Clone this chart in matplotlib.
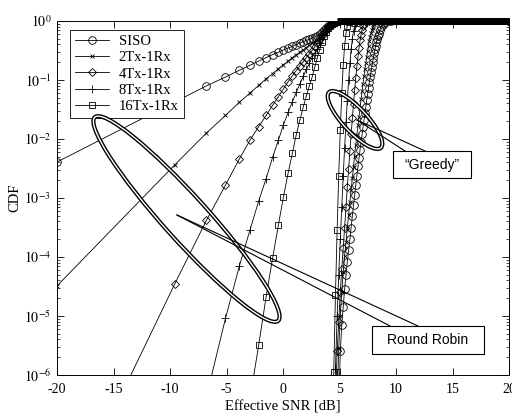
import numpy as np
import matplotlib
matplotlib.use("Agg")
import matplotlib.pyplot as plt
from matplotlib.patches import Ellipse, Rectangle
from matplotlib.lines import Line2D
from matplotlib.transforms import IdentityTransform
from matplotlib.ticker import LogLocator, NullFormatter

# ---------------- data (x: effective SNR in dB, y: log10 of CDF) ----------------
series_labels = ['SISO', '2Tx-1Rx', '4Tx-1Rx', '8Tx-1Rx', '16Tx-1Rx']

# Round-robin scheduling
rr_siso_snr = [-20, -6.78, -5.09, -3.87, -2.92, -2.15, -1.49, -0.92, -0.41, 0.04,
               0.45, 0.83, 1.17, 1.49, 1.79, 2.07, 2.33, 2.58, 2.81, 3.03,
               3.24, 3.44, 3.64, 3.82, 4.00, 4.17, 4.33, 4.49, 4.64, 4.79, 4.93, 20]
rr_siso_log = [-2.39, -1.10, -0.95, -0.835, -0.75, -0.68, -0.62, -0.57, -0.53, -0.49,
               -0.46, -0.43, -0.40, -0.375, -0.35, -0.33, -0.31, -0.29, -0.27, -0.25,
               -0.22, -0.19, -0.155, -0.12, -0.09, -0.065, -0.045, -0.03, -0.015, -0.005, 0, 0]

rr_2tx_snr = [-20, -9.59, -6.78, -5.09, -3.87, -2.92, -2.15, -1.49, -0.92, -0.41,
              0.04, 0.45, 0.83, 1.17, 1.49, 1.79, 2.07, 2.33, 2.58, 2.81,
              3.03, 3.24, 3.44, 3.64, 3.82, 4.00, 4.17, 4.33, 4.49, 4.64, 4.79, 4.93, 20]
rr_2tx_log = [-4.49, -2.44, -1.90, -1.60, -1.38, -1.22, -1.09, -0.98, -0.89, -0.81,
              -0.74, -0.68, -0.62, -0.57, -0.53, -0.49, -0.45, -0.41, -0.38, -0.35,
              -0.32, -0.27, -0.225, -0.18, -0.14, -0.10, -0.07, -0.045, -0.025, -0.012, -0.004, 0, 0]

rr_4tx_snr = [-20, -9.59, -6.78, -5.09, -3.87, -2.92, -2.15, -1.49, -0.92, -0.41,
              0.04, 0.45, 0.83, 1.17, 1.49, 1.79, 2.07, 2.33, 2.58, 2.81,
              3.03, 3.24, 3.44, 3.64, 3.82, 4.00, 4.17, 4.33, 4.49, 4.64, 4.79, 4.93, 20]
rr_4tx_log = [-8.6, -4.46, -3.38, -2.78, -2.34, -2.02, -1.79, -1.60, -1.43, -1.28,
              -1.15, -1.03, -0.93, -0.84, -0.76, -0.69, -0.62, -0.56, -0.50, -0.44,
              -0.38, -0.31, -0.25, -0.19, -0.145, -0.105, -0.072, -0.045, -0.025, -0.012, -0.004, 0, 0]

rr_8tx_snr = [-6.78, -5.09, -3.87, -2.92, -2.15, -1.49, -0.92, -0.41, 0.04, 0.45,
              0.83, 1.17, 1.49, 1.79, 2.07, 2.33, 2.58, 2.81, 3.03, 3.24,
              3.44, 3.64, 3.82, 4.00, 4.17, 4.33, 4.49, 4.64, 4.79, 20]
rr_8tx_log = [-6.37, -5.04, -4.16, -3.54, -3.05, -2.67, -2.31, -2.02, -1.76, -1.55,
              -1.37, -1.21, -1.07, -0.94, -0.82, -0.72, -0.62, -0.54, -0.47, -0.38,
              -0.30, -0.23, -0.165, -0.115, -0.075, -0.045, -0.025, -0.01, 0, 0]

rr_16tx_snr = [-2.92, -2.15, -1.49, -0.92, -0.41, 0.04, 0.45, 0.83, 1.17, 1.49,
               1.79, 2.07, 2.33, 2.58, 2.81, 3.03, 3.24, 3.44, 3.64, 3.82,
               4.00, 4.17, 4.33, 4.49, 4.64, 4.79, 4.93, 20]
rr_16tx_log = [-6.4, -5.49, -4.67, -4.02, -3.46, -2.98, -2.58, -2.24, -1.93, -1.68,
               -1.46, -1.27, -1.10, -0.95, -0.78, -0.63, -0.49, -0.36, -0.26, -0.18,
               -0.12, -0.08, -0.05, -0.028, -0.012, -0.004, 0, 0]

# Greedy scheduling
gr_siso_snr = [4.93, 5.07, 5.20, 5.33, 5.45, 5.58, 5.69, 5.81, 5.92, 6.03,
               6.14, 6.24, 6.34, 6.44, 6.54, 6.64, 6.73, 6.82, 6.91, 7.00,
               7.08, 7.17, 7.25, 7.33, 7.41, 7.49, 7.57, 7.64, 7.72, 7.79,
               7.86, 7.93, 8.00, 8.07, 8.14, 8.20, 8.27, 8.33, 8.39, 8.46,
               8.58, 8.70, 8.81, 8.93, 9.04, 9.30, 9.60, 20]
gr_siso_log = [-6.5, -5.6, -5.15, -4.85, -4.55, -4.3, -4.08, -3.88, -3.7, -3.5,
               -3.3, -3.12, -2.95, -2.78, -2.62, -2.46, -2.32, -2.18, -2.05, -1.92,
               -1.8, -1.68, -1.56, -1.45, -1.34, -1.24, -1.14, -1.04, -0.95, -0.86,
               -0.78, -0.70, -0.62, -0.55, -0.48, -0.42, -0.36, -0.31, -0.26, -0.22,
               -0.15, -0.10, -0.06, -0.035, -0.02, -0.005, 0, 0]

gr_2tx_snr = [4.79, 4.93, 5.07, 5.20, 5.33, 5.45, 5.58, 5.69, 5.81, 5.92,
              6.03, 6.14, 6.24, 6.34, 6.44, 6.54, 6.64, 6.73, 6.82, 6.91,
              7.00, 7.08, 7.17, 7.25, 7.33, 7.41, 7.49, 7.57, 7.64, 7.72,
              7.79, 7.86, 7.93, 8.00, 8.07, 8.20, 8.46, 20]
gr_2tx_log = [-6.5, -5.55, -5.0, -4.6, -4.25, -3.98, -3.75, -3.5, -3.28, -3.07,
              -2.86, -2.66, -2.47, -2.28, -2.1, -1.93, -1.77, -1.62, -1.47, -1.33,
              -1.19, -1.06, -0.94, -0.82, -0.71, -0.61, -0.51, -0.42, -0.34, -0.27,
              -0.21, -0.16, -0.12, -0.08, -0.05, -0.02, 0, 0]

gr_4tx_snr = [4.64, 4.79, 4.93, 5.07, 5.20, 5.33, 5.45, 5.58, 5.69, 5.81,
              5.92, 6.03, 6.14, 6.24, 6.34, 6.44, 6.54, 6.64, 6.73, 6.82,
              6.91, 7.00, 7.08, 7.17, 7.33, 7.57, 20]
gr_4tx_log = [-6.5, -5.6, -5.1, -4.6, -4.2, -3.85, -3.5, -3.15, -2.82, -2.5,
              -2.2, -1.92, -1.65, -1.4, -1.17, -0.96, -0.77, -0.6, -0.45, -0.33,
              -0.23, -0.15, -0.09, -0.05, -0.015, 0, 0]

gr_8tx_snr = [4.49, 4.64, 4.79, 4.93, 5.07, 5.20, 5.33, 5.45, 5.58, 5.69,
              5.81, 5.92, 6.03, 6.14, 6.24, 6.34, 6.44, 6.54, 6.73, 20]
gr_8tx_log = [-6.8, -5.9, -5.0, -4.3, -3.7, -3.15, -2.62, -2.15, -1.72, -1.35,
              -1.0, -0.72, -0.48, -0.3, -0.17, -0.09, -0.04, -0.015, 0, 0]

gr_16tx_snr = [4.33, 4.49, 4.64, 4.79, 4.93, 5.07, 5.20, 5.33, 5.45, 5.58,
               5.69, 5.81, 5.92, 20]
gr_16tx_log = [-7.3, -5.95, -4.65, -3.55, -2.62, -1.85, -1.22, -0.75, -0.42, -0.2,
               -0.08, -0.02, 0, 0]

xtick_vals = [-20, -15, -10, -5, 0, 5, 10, 15, 20]
xtick_labels = ['-20', '-15', '-10', '-5', '0', '5', '10', '15', '20']
ytick_vals = [1e-6, 1e-5, 1e-4, 1e-3, 1e-2, 1e-1, 1e0]
ytick_labels = [r'$10^{-6}$', r'$10^{-5}$', r'$10^{-4}$', r'$10^{-3}$',
                r'$10^{-2}$', r'$10^{-1}$', r'$10^{0}$']

# ---------------- figure ----------------
W, H = 512, 413
plt.rcParams['font.family'] = ['Liberation Serif', 'DejaVu Serif']
plt.rcParams['mathtext.fontset'] = 'stix'
plt.rcParams['axes.unicode_minus'] = False
plt.rcParams['font.size'] = 10

fig = plt.figure(figsize=(W / 100, H / 100), dpi=100)
ax = fig.add_axes([57 / W, 1 - 375 / H, 452 / W, 354 / H])
ax.set_yscale('log')

styles = [dict(marker='o', ms=5.5), dict(marker='x', ms=3.5), dict(marker='D', ms=3.8),
          dict(marker='+', ms=6), dict(marker='s', ms=4.6)]
common = dict(color='black', lw=0.6, mfc='none', mec='black', mew=0.6)

rr = [(rr_siso_snr, rr_siso_log), (rr_2tx_snr, rr_2tx_log), (rr_4tx_snr, rr_4tx_log),
      (rr_8tx_snr, rr_8tx_log), (rr_16tx_snr, rr_16tx_log)]
gr = [(gr_siso_snr, gr_siso_log), (gr_2tx_snr, gr_2tx_log), (gr_4tx_snr, gr_4tx_log),
      (gr_8tx_snr, gr_8tx_log), (gr_16tx_snr, gr_16tx_log)]

handles = []
for group, labelled in ((rr, True), (gr, False)):
    for lab, st, (xs, ls) in zip(series_labels, styles, group):
        x = np.array(xs, dtype=float)
        c = 10.0 ** np.array(ls, dtype=float)
        h, = ax.plot(x, c, label=lab if labelled else None, **common, **st)
        if labelled:
            handles.append(h)
        sat = c >= 1.0
        ax.plot(x[sat], c[sat], color='black', lw=5, clip_on=False,
                solid_capstyle='butt', zorder=1.5)

ax.set_xlim(-20, 20)
ax.set_ylim(1e-6, 1)
ax.set_xticks(xtick_vals)
ax.set_xticklabels(xtick_labels)
ax.set_yticks(ytick_vals)
ax.set_yticklabels(ytick_labels)
ax.yaxis.set_minor_locator(LogLocator(base=10, subs=np.arange(2, 10), numticks=20))
ax.yaxis.set_minor_formatter(NullFormatter())
ax.tick_params(which='both', direction='in', top=True, right=True, labelsize=10)
ax.tick_params(axis='x', which='major', length=5, width=0.6, pad=6)
ax.tick_params(axis='y', which='major', length=5, width=0.6, pad=4)
ax.tick_params(which='minor', length=2.5, width=0.5)
for s in ax.spines.values():
    s.set_linewidth(0.7)

ax.set_xlabel('Effective SNR [dB]', fontsize=10.5, labelpad=3)
ax.set_ylabel('CDF', fontsize=10.5, labelpad=2)

leg = ax.legend(handles=handles, loc='upper left', bbox_to_anchor=(13 / 452, 1 - 9 / 354),
                borderaxespad=0, fancybox=False, edgecolor='black', framealpha=1,
                numpoints=1, handlelength=2.3, handletextpad=0.7, labelspacing=0.2,
                borderpad=0.35, fontsize=10.5)
leg.get_frame().set_linewidth(0.6)

# ---------------- annotations (pixel coordinates, y from top) ----------------
tr = IdentityTransform()


def pt(x, y):
    return (x, H - y)


for (cx, cy, w, h, a) in [(186.5, 219, 274, 44, -48), (355, 120, 76, 24, -47)]:
    for lw, col in ((3.0, 'black'), (1.0, 'white')):
        fig.add_artist(Ellipse(pt(cx, cy), w, h, angle=a, fill=False, ec=col, lw=lw,
                               transform=tr, zorder=5))

callouts = [((177, 215), (390, 326), (418, 326), (372, 326, 112, 28), 'Round Robin'),
            ((357, 120), (405, 151), (425, 151), (393, 151, 78, 27), '\u201cGreedy\u201d')]
for tip, b1, b2, box, txt in callouts:
    for b in (b1, b2):
        fig.add_artist(Line2D([tip[0], b[0]], [H - tip[1], H - b[1]], color='black', lw=0.8,
                              transform=tr, zorder=6))
    bx, by, bw, bh = box
    fig.add_artist(Rectangle((bx, H - by - bh), bw, bh, fc='white', ec='black', lw=0.8,
                             transform=tr, zorder=7))
    fig.text((bx + bw / 2) / W, 1 - (by + bh / 2) / H, txt, ha='center', va='center',
             family='Liberation Sans', fontsize=10, zorder=8)

fig.savefig('out.png', dpi=100)
